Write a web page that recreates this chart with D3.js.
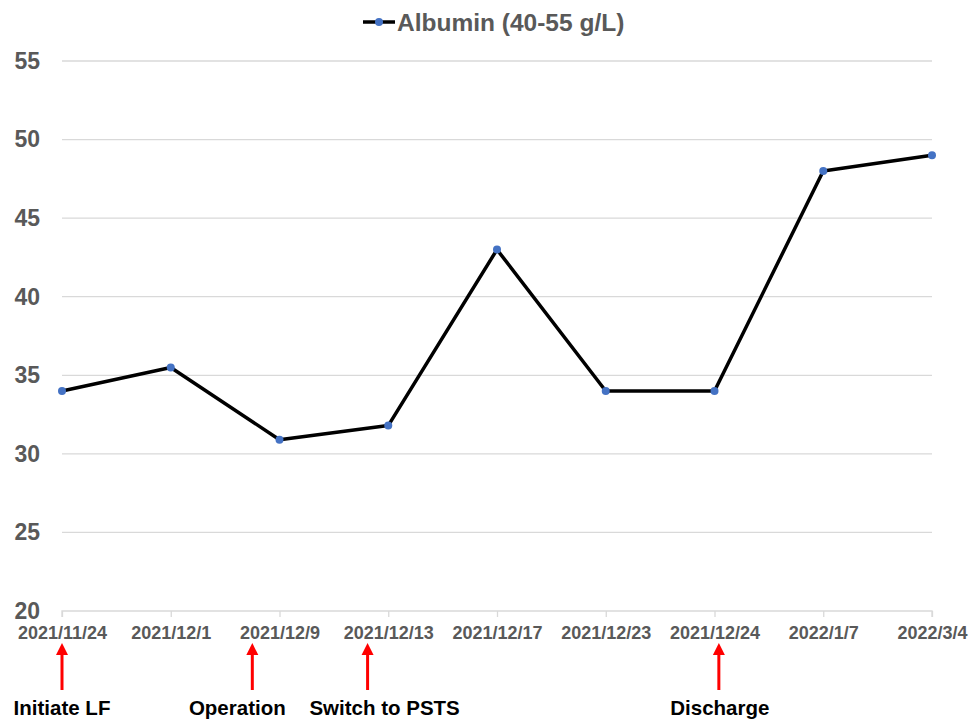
<!DOCTYPE html>
<html lang="en">
<head>
<meta charset="UTF-8">
<title>Albumin</title>
<script src="https://d3js.org/d3.v7.min.js"></script>
<style>
  body { margin: 0; background: #fff; }
  text { font-family: Arial, "Liberation Sans", sans-serif; font-weight: bold; }
</style>
</head>
<body>
<div class="chart"></div>
<script>
  // data
  const dates = ["2021/11/24", "2021/12/1", "2021/12/9", "2021/12/13", "2021/12/17",
                 "2021/12/23", "2021/12/24", "2022/1/7", "2022/3/4"]
  const albumin = [34, 35.5, 30.9, 31.8, 43, 34, 34, 48, 49]
  const yTicks = [20, 25, 30, 35, 40, 45, 50, 55]
  // events: label, position in category units
  const eventLabels = ["Initiate LF", "Operation", "Switch to PSTS", "Discharge"]
  const eventPos = [0, 1.75, 2.81, 6.04]
  const eventTextShift = [0, -15, 17, 1]

  const svgWidth = 972, svgHeight = 724
  const margin = {top: 61, right: 40, bottom: 113, left: 62}
  const width = svgWidth - margin.left - margin.right
  const height = svgHeight - margin.top - margin.bottom

  const svg = d3.select(".chart").append("svg")
    .attr("width", svgWidth)
    .attr("height", svgHeight)
  const g = svg.append("g")
    .attr("transform", `translate(${margin.left},${margin.top})`)

  const x = d3.scalePoint().domain(dates).range([0, width]).padding(0)
  const y = d3.scaleLinear().domain([20, 55]).range([height, 0])
  const step = x.step()
  const xPos = p => p * step

  // gridlines
  g.append("g")
    .selectAll("line")
    .data(yTicks.filter(d => d > 20))
    .join("line")
      .attr("x1", 0).attr("x2", width)
      .attr("y1", d => y(d)).attr("y2", d => y(d))
      .attr("stroke", "#d9d9d9").attr("stroke-width", 1.3)

  // y axis labels
  const yAxis = d3.axisLeft(y).tickValues(yTicks).tickSize(0).tickPadding(22)
  g.append("g").call(yAxis)
    .call(a => a.select(".domain").remove())
    .selectAll("text")
      .attr("fill", "#595959")
      .style("font-size", "23px")

  // x axis
  const xAxis = d3.axisBottom(x).tickSize(6).tickPadding(9)
  const xa = g.append("g").attr("transform", `translate(0,${height})`).call(xAxis)
  xa.select(".domain").attr("stroke", "#d9d9d9").attr("stroke-width", 1.3)
    .attr("d", `M0,6V0H${width}V6`)
  xa.selectAll(".tick line").attr("stroke", "#d9d9d9").attr("stroke-width", 1.3)
  xa.selectAll("text")
    .attr("fill", "#595959")
    .style("font-size", "18px")

  // line
  const line = d3.line().x((d, i) => x(dates[i])).y(d => y(d))
  g.append("path")
    .datum(albumin)
    .attr("d", line)
    .attr("fill", "none")
    .attr("stroke", "#000")
    .attr("stroke-width", 3.5)
    .attr("stroke-linejoin", "round")

  g.append("g")
    .selectAll("circle")
    .data(albumin)
    .join("circle")
      .attr("cx", (d, i) => x(dates[i]))
      .attr("cy", d => y(d))
      .attr("r", 4)
      .attr("fill", "#4472C4")

  // legend
  const lg = svg.append("g").attr("transform", "translate(363,22)")
  lg.append("line").attr("x1", 0).attr("x2", 32).attr("y1", 0).attr("y2", 0)
    .attr("stroke", "#000").attr("stroke-width", 3.5)
  lg.append("circle").attr("cx", 16).attr("cy", 0).attr("r", 4).attr("fill", "#4472C4")
  lg.append("text").attr("x", 34).attr("y", 8.5)
    .attr("fill", "#595959").style("font-size", "24.5px")
    .text("Albumin (40-55 g/L)")

  // event arrows
  const tipY = height + 32
  const ev = g.append("g").selectAll("g")
    .data(eventLabels)
    .join("g")
      .attr("transform", (d, i) => `translate(${xPos(eventPos[i])},0)`)
  ev.append("line")
    .attr("x1", 0).attr("x2", 0)
    .attr("y1", height + 79).attr("y2", tipY + 10)
    .attr("stroke", "#ff0000").attr("stroke-width", 3)
  ev.append("path")
    .attr("d", `M0,${tipY}L6,${tipY + 12}L-6,${tipY + 12}Z`)
    .attr("fill", "#ff0000")
  ev.append("text")
    .attr("x", (d, i) => eventTextShift[i])
    .attr("y", height + 104)
    .attr("text-anchor", "middle")
    .attr("fill", "#000")
    .style("font-size", "20.5px")
    .text(d => d)
</script>
</body>
</html>
